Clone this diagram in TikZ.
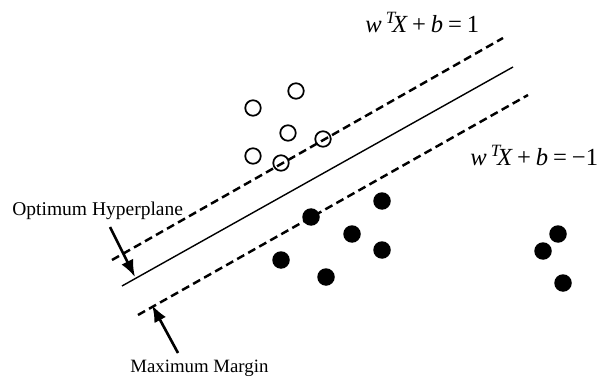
\documentclass[tikz,border=0pt]{standalone}
\usepackage{fontspec}
\setmainfont{Liberation Serif}
\usepackage{tikz}
\usetikzlibrary{arrows.meta}

\newcommand{\wtx}{{\itshape w}\,\textsuperscript{\itshape T}\!{\itshape X}}
\newcommand{\gap}{\hspace{0.2em}}

\begin{document}
\begin{tikzpicture}[
    opendot/.style={circle,draw,line width=1pt,inner sep=0pt,minimum size=0.31cm},
    filldot/.style={circle,fill=black,inner sep=0pt,minimum size=0.35cm},
    marginline/.style={line width=1.4pt,dash pattern=on 4.6pt off 2.6pt},
    pointer/.style={line width=1.5pt,-{Latex[length=3.4mm,width=2.6mm]}},
    lbl/.style={font=\fontsize{11.1}{13}\selectfont,inner sep=0pt},
    eqn/.style={font=\fontsize{14}{16}\selectfont,inner sep=0pt}]
  \useasboundingbox (0,0) rectangle (12.04,7.56);
  % hyperplane and margins
  \coordinate (h1) at (2.44,1.84);
  \coordinate (h2) at (10.26,6.22);
  \coordinate (up1) at (2.24,2.36);
  \coordinate (up2) at (10.06,6.80);
  \coordinate (lo1) at (2.76,1.26);
  \coordinate (lo2) at (10.56,5.66);
  \draw[line width=0.8pt] (h1) -- (h2);
  \draw[marginline] (up1) -- (up2);
  \draw[marginline] (lo1) -- (lo2);
  % data points
  \foreach \x/\y [count=\i] in {5.92/5.74,5.06/5.40,5.76/4.90,6.46/4.78,5.06/4.44,5.62/4.30}
    \node[opendot] (o\i) at (\x,\y) {};
  \foreach \x/\y [count=\i] in {7.64/3.54,6.22/3.22,7.04/2.88,7.64/2.56,5.62/2.36,6.52/2.02,11.16/2.88,10.86/2.54,11.26/1.90}
    \node[filldot] (f\i) at (\x,\y) {};
  % labels
  \node[lbl,anchor=base west] (opt) at (0.24,3.24) {Optimum Hyperplane};
  \node[lbl,anchor=base west,font=\fontsize{10.7}{13}\selectfont] (mm) at (2.60,0.12) {Maximum Margin};
  \node[eqn,anchor=base west] (eqp) at (7.30,6.90) {\wtx\gap+\gap{\itshape b}\gap=\gap1};
  \node[eqn,anchor=base west] (eqm) at (9.40,4.24) {\wtx\gap+\gap{\itshape b}\gap=\gap−1};
  \coordinate (optT) at (2.20,3.02);
  \coordinate (optH) at (2.70,2.02);
  \coordinate (mmT) at (3.56,0.50);
  \coordinate (mmH) at (3.04,1.46);
  \draw[pointer] (optT) -- (optH);
  \draw[pointer] (mmT) -- (mmH);
\end{tikzpicture}
\end{document}
